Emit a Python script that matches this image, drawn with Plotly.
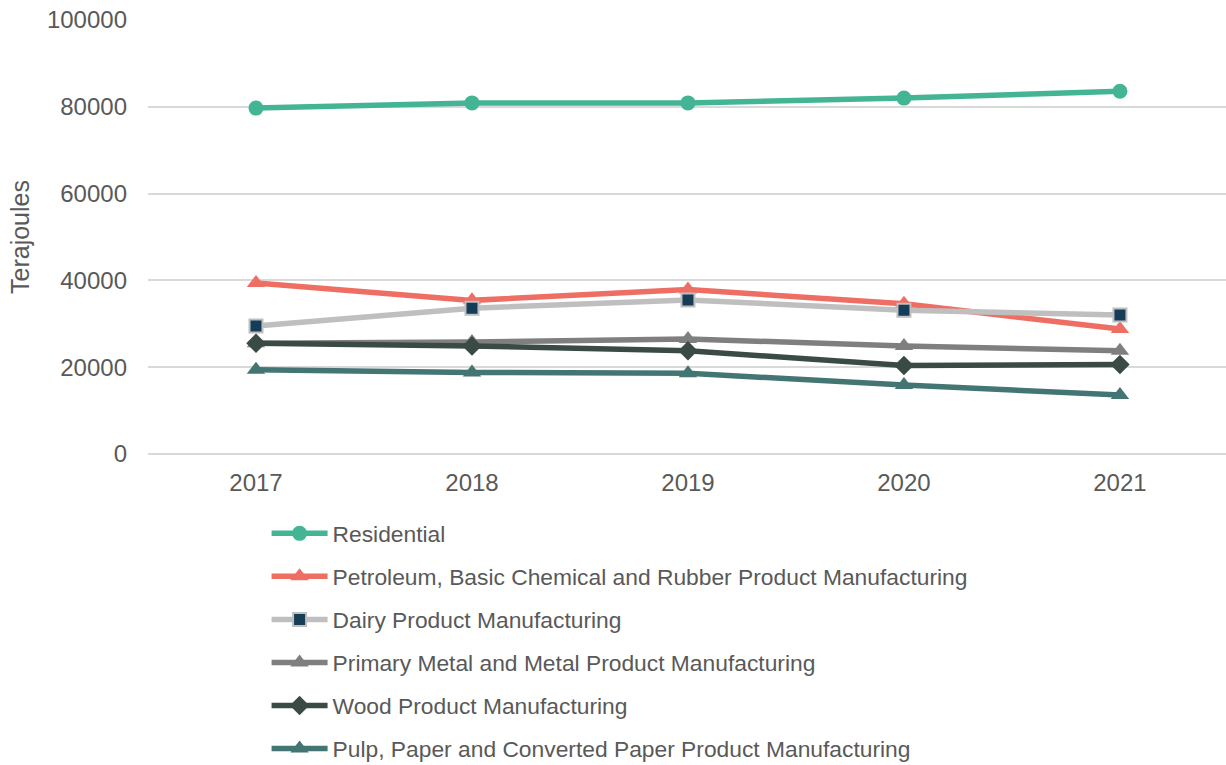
import plotly.graph_objects as go

years = ["2017", "2018", "2019", "2020", "2021"]

residential = [79700, 80900, 80900, 82000, 83600]
petroleum = [39400, 35400, 37900, 34600, 28800]
dairy = [29500, 33600, 35500, 33100, 32000]
metal = [25500, 25800, 26500, 24900, 23800]
wood = [25500, 24900, 23800, 20400, 20600]
pulp = [19400, 18800, 18600, 15900, 13600]

series = [
    ("Residential", residential, "#43B595", dict(symbol="circle", size=15, color="#43B595")),
    ("Petroleum, Basic Chemical and Rubber Product Manufacturing", petroleum, "#EE6E63",
     dict(symbol="triangle-up", size=16, color="#EE6E63")),
    ("Dairy Product Manufacturing", dairy, "#BFBFBF",
     dict(symbol="square", size=13, color="#163D58", line=dict(color="#BFBFBF", width=2))),
    ("Primary Metal and Metal Product Manufacturing", metal, "#7F7F7F",
     dict(symbol="triangle-up", size=16, color="#7F7F7F")),
    ("Wood Product Manufacturing", wood, "#3A4B46",
     dict(symbol="diamond", size=15, color="#3A4B46")),
    ("Pulp, Paper and Converted Paper Product Manufacturing", pulp, "#437573",
     dict(symbol="triangle-up", size=16, color="#437573")),
]

fig = go.Figure()
for i, (name, vals, col, mk) in enumerate(series):
    fig.add_trace(go.Scatter(
        x=years, y=vals, name=name, mode="lines+markers",
        line=dict(color=col, width=5.5), marker=mk, legendgroup=f"g{i}",
    ))

font_family = "Liberation Sans, Arial, sans-serif"
fig.update_layout(
    width=1226, height=765,
    margin=dict(l=148, r=0, t=20, b=311),
    plot_bgcolor="white", paper_bgcolor="white",
    font=dict(family=font_family, size=22, color="#595959"),
    showlegend=True,
    legend=dict(
        orientation="v", x=0.11, y=0.3307, xanchor="left", yanchor="top",
        yref="container",
        font=dict(size=22.8, color="#595959"), tracegroupgap=10.4, itemwidth=56,
        bgcolor="rgba(0,0,0,0)",
    ),
    xaxis=dict(
        type="category", range=[-0.5, 4.491], showgrid=False, showline=False,
        ticks="", tickfont=dict(size=24, color="#595959"), ticklabelstandoff=12,
        zeroline=False,
    ),
    yaxis=dict(
        range=[0, 100001], tickvals=[0, 20000, 40000, 60000, 80000, 100000],
        showgrid=True, gridcolor="#D9D9D9", gridwidth=1.5,
        zeroline=True, zerolinecolor="#D9D9D9", zerolinewidth=1.5,
        showline=False, ticks="", tickfont=dict(size=24, color="#595959"),
        tickformat="d", ticklabelstandoff=20, ticklabeloverflow="allow",
        title=dict(text="Terajoules", font=dict(size=25, color="#595959"), standoff=10),
    ),
)

fig.write_html(
    "out.html",
    config={"displayModeBar": False},
    post_script="document.body.style.margin='0';document.body.style.overflow='hidden';",
)
